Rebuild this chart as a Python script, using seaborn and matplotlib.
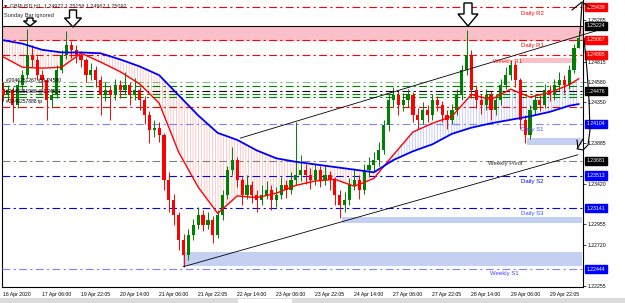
import matplotlib
matplotlib.use('Agg')
import matplotlib.pyplot as plt
import matplotlib.transforms as mtransforms
from matplotlib.patches import Rectangle, Polygon
import seaborn as sns
import numpy as np
import pandas as pd

# GBPUSD H1 chart, candles at 2-hour steps
first_open = 1.2450
closes = [1.2443, 1.2449, 1.2432, 1.2455, 1.2466, 1.2489, 1.2483, 1.2466, 1.2460, 1.2438,
          1.2443, 1.2472, 1.2489, 1.2500, 1.2495, 1.2489, 1.2483, 1.2466, 1.2472, 1.2460,
          1.2443, 1.2449, 1.2443, 1.2455, 1.2449, 1.2455, 1.2443, 1.2449, 1.2438, 1.2420,
          1.2403, 1.2406, 1.2398, 1.2346, 1.2323, 1.2306, 1.2278, 1.2260, 1.2283, 1.2295,
          1.2306, 1.2295, 1.2300, 1.2283, 1.2306, 1.2329, 1.2358, 1.2369, 1.2346, 1.2329,
          1.2340, 1.2329, 1.2323, 1.2329, 1.2335, 1.2323, 1.2329, 1.2340, 1.2335, 1.2346,
          1.2352, 1.2358, 1.2352, 1.2346, 1.2358, 1.2346, 1.2352, 1.2346, 1.2329, 1.2318,
          1.2323, 1.2340, 1.2346, 1.2335, 1.2358, 1.2363, 1.2369, 1.2381, 1.2409, 1.2438,
          1.2443, 1.2432, 1.2438, 1.2443, 1.2420, 1.2415, 1.2426, 1.2420, 1.2438, 1.2432,
          1.2420, 1.2415, 1.2426, 1.2443, 1.2472, 1.2489, 1.2449, 1.2438, 1.2432, 1.2443,
          1.2426, 1.2438, 1.2455, 1.2466, 1.2478, 1.2460, 1.2415, 1.2398, 1.2426, 1.2438,
          1.2432, 1.2449, 1.2443, 1.2455, 1.2460, 1.2455, 1.2472, 1.2497, 1.2509]
highs = [1.2458, 1.2455, 1.2452, 1.2460, 1.2472, 1.2519, 1.2500, 1.2488, 1.2472, 1.2463,
         1.2450, 1.2478, 1.2495, 1.2516, 1.2505, 1.2500, 1.2494, 1.2486, 1.2480, 1.2476,
         1.2465, 1.2458, 1.2455, 1.2462, 1.2460, 1.2470, 1.2458, 1.2463, 1.2452, 1.2442,
         1.2425, 1.2415, 1.2412, 1.2400, 1.2355, 1.2330, 1.2310, 1.2285, 1.2290, 1.2302,
         1.2315, 1.2312, 1.2310, 1.2305, 1.2312, 1.2335, 1.2362, 1.2384, 1.2372, 1.2350,
         1.2352, 1.2345, 1.2335, 1.2340, 1.2345, 1.2340, 1.2338, 1.2350, 1.2346, 1.2355,
         1.2412, 1.2375, 1.2365, 1.2360, 1.2365, 1.2362, 1.2362, 1.2357, 1.2350, 1.2335,
         1.2333, 1.2348, 1.2360, 1.2352, 1.2365, 1.2372, 1.2378, 1.2390, 1.2415, 1.2445,
         1.2453, 1.2448, 1.2446, 1.2450, 1.2447, 1.2428, 1.2435, 1.2432, 1.2445, 1.2442,
         1.2436, 1.2426, 1.2433, 1.2450, 1.2478, 1.2518, 1.2495, 1.2455, 1.2445, 1.2450,
         1.2448, 1.2445, 1.2462, 1.2475, 1.2483, 1.2481, 1.2463, 1.2420, 1.2432, 1.2445,
         1.2443, 1.2456, 1.2455, 1.2462, 1.2470, 1.2466, 1.2478, 1.2502, 1.2516]
lows = [1.2436, 1.2437, 1.2412, 1.2428, 1.2450, 1.2463, 1.2475, 1.2460, 1.2450, 1.2415,
        1.2428, 1.2440, 1.2468, 1.2485, 1.2486, 1.2480, 1.2475, 1.2458, 1.2460, 1.2452,
        1.2420, 1.2436, 1.2415, 1.2438, 1.2440, 1.2444, 1.2432, 1.2438, 1.2426, 1.2410,
        1.2388, 1.2395, 1.2390, 1.2335, 1.2310, 1.2295, 1.2266, 1.2247, 1.2255, 1.2278,
        1.2290, 1.2288, 1.2290, 1.2274, 1.2280, 1.2300, 1.2325, 1.2352, 1.2338, 1.2318,
        1.2325, 1.2320, 1.2310, 1.2318, 1.2325, 1.2312, 1.2315, 1.2325, 1.2326, 1.2330,
        1.2340, 1.2345, 1.2342, 1.2336, 1.2340, 1.2338, 1.2340, 1.2335, 1.2318, 1.2303,
        1.2310, 1.2318, 1.2335, 1.2325, 1.2330, 1.2350, 1.2356, 1.2362, 1.2376, 1.2402,
        1.2430, 1.2420, 1.2425, 1.2430, 1.2412, 1.2405, 1.2410, 1.2412, 1.2415, 1.2425,
        1.2412, 1.2405, 1.2410, 1.2420, 1.2438, 1.2466, 1.2440, 1.2428, 1.2422, 1.2426,
        1.2415, 1.2420, 1.2432, 1.2450, 1.2460, 1.2452, 1.2405, 1.2388, 1.2393, 1.2420,
        1.2425, 1.2428, 1.2436, 1.2438, 1.2448, 1.2446, 1.2450, 1.2468, 1.2497]

# moving averages (red fast, blue slow) read at every 4th candle
ma_idx = list(range(0, 117, 4)) + [118]
ma_fast = [1.2487, 1.2475, 1.2474, 1.2475, 1.2491, 1.2481, 1.2470, 1.2456, 1.2434, 1.2378,
           1.2338, 1.2308, 1.2328, 1.2326, 1.2331, 1.2340, 1.2345, 1.2347, 1.2339, 1.2348,
           1.2375, 1.2401, 1.2411, 1.2419, 1.2444, 1.2438, 1.2450, 1.2441, 1.2446, 1.2455, 1.2462]
ma_slow = [1.2506, 1.2502, 1.2495, 1.2492, 1.2492, 1.2491, 1.2484, 1.2476, 1.2466, 1.2443,
           1.2420, 1.2400, 1.2392, 1.2380, 1.2371, 1.2367, 1.2364, 1.2361, 1.2358, 1.2355,
           1.2369, 1.2379, 1.2387, 1.2399, 1.2406, 1.2411, 1.2415, 1.2419, 1.2424, 1.2431, 1.2433]

time_idx = list(range(0, 113, 8))
time_labels = ['16 Apr 2020', '17 Apr 06:00', '19 Apr 22:05', '20 Apr 14:00', '21 Apr 06:00',
               '21 Apr 22:05', '22 Apr 14:00', '23 Apr 06:00', '23 Apr 22:05', '24 Apr 14:00',
               '27 Apr 06:00', '27 Apr 22:05', '28 Apr 14:00', '29 Apr 06:00', '29 Apr 22:05']
# scale ticks that are not hidden behind the level boxes
price_ticks = [1.25285, 1.24815, 1.24580, 1.24350, 1.23885,
               1.23420, 1.22955, 1.22720, 1.22255]

# horizontal levels: price, colour, boxed label on the price scale
level_prices = [1.25439, 1.25067, 1.24895, 1.2458, 1.2454, 1.24476, 1.2444, 1.2441, 1.2430,
                1.24104, 1.23681, 1.23513, 1.23141, 1.22444]
level_colors = ['red', 'red', 'red', '#80c080', 'green', 'black', 'green', 'green', 'red',
                '#8080ff', '#808080', 'blue', 'blue', '#8080ff']
level_boxed = [True, True, True, False, False, True, False, False, False,
               True, True, True, True, True]
box_colors = {'red': 'red', 'black': 'black', '#8080ff': 'blue', 'blue': 'blue', '#808080': 'black'}
solid_price = 1.25224

level_names = ['Daily R2', 'Daily R1', 'Weekly R1', 'Daily S1', 'Weekly Pivot', 'Daily S2', 'Daily S3', 'Weekly S1']
name_xy = [(521, 14), (521, 46), (493, 61), (521, 130), (488, 164), (521, 181), (521, 213), (490, 274)]
name_colors = ['red', 'red', 'red', '#5050ff', '#303030', 'blue', '#3050ff', '#4040ff']

sns.set_style('white')
plt.rcParams['font.family'] = ['Liberation Sans', 'DejaVu Sans']
plt.rcParams['hatch.linewidth'] = 0.5

fig = plt.figure(figsize=(6.25, 3.03), dpi=100)
ax = fig.add_axes([2 / 625, 16 / 303, 581 / 625, 287 / 303])
ax.set_xlim(-0.2, 118.85)
ax.set_ylim(1.22239, 1.25519)

# zones
ax.add_patch(Rectangle((-0.2, 1.2505), 119.05, solid_price - 1.2505, color='#f9c0ca', lw=0, zorder=1))
ax.add_patch(Rectangle((106, 1.2480), 11.6, 0.0006, color='#f9c0ca', lw=0, zorder=1))
ax.add_patch(Rectangle((107.4, 1.2386), 11.3, 0.0008, color='#c4d0f2', lw=0, zorder=1))
ax.add_patch(Rectangle((69.5, 1.2297), 49.2, 0.0007, color='#c4d0f2', lw=0, zorder=1))
ax.add_patch(Rectangle((36.9, 1.2248), 81.8, 0.0016, color='#c4d0f2', lw=0, zorder=1))

# MA cloud
f = np.array(ma_fast)
s = np.array(ma_slow)
ax.fill_between(ma_idx, f, s, where=f < s, interpolate=True, facecolor='none',
                edgecolor='#ffb4b4', hatch='||||||', linewidth=0, zorder=1.5)
ax.fill_between(ma_idx, f, s, where=f >= s, interpolate=True, facecolor='none',
                edgecolor='#b4bcff', hatch='||||||', linewidth=0, zorder=1.5)

# level lines
dash = (0, (7, 3, 2, 3))
for p, c in zip(level_prices, level_colors):
    ax.axhline(p, color=c, lw=0.8, linestyle=dash, zorder=3)
ax.axhline(solid_price, color='black', lw=0.8, zorder=3)

# candles
df = pd.DataFrame({'close': closes, 'high': highs, 'low': lows})
df['open'] = [first_open] + closes[:-1]
df['x'] = np.arange(len(df))
up = df['close'] >= df['open']
cols = np.where(up, '#008000', '#ff0000')
ax.vlines(df['x'], df['low'], df['high'], colors=cols, linewidth=0.7, zorder=4)
ax.bar(df['x'], (df['close'] - df['open']).abs().clip(lower=0.00008),
       bottom=df[['open', 'close']].min(axis=1), width=0.65, color=cols, linewidth=0, zorder=4)

sns.lineplot(x=ma_idx, y=ma_fast, color='red', lw=1.0, ax=ax, zorder=5)
sns.lineplot(x=ma_idx, y=ma_slow, color='#0000ff', lw=1.3, ax=ax, zorder=5)

# trend channel
ax.plot([48.6, 122.3], [1.2394, 1.2518], color='black', lw=0.6, zorder=5, clip_on=False)
ax.plot([36.9, 117.8], [1.2247, 1.2375], color='black', lw=0.6, zorder=5)

# axes styling
for side in ['left', 'bottom', 'right']:
    ax.spines[side].set_visible(True)
    ax.spines[side].set_color('black')
    ax.spines[side].set_linewidth(0.8)
ax.spines['top'].set_visible(False)
ax.set_xticks(time_idx)
ax.set_xticklabels(time_labels, ha='left', fontsize=3.7)
ax.yaxis.tick_right()
ax.set_yticks(price_ticks)
ax.set_yticklabels(['%.5f' % p for p in price_ticks], fontsize=3.7)
ax.tick_params(axis='both', length=2, width=0.5, pad=1.5, colors='black')
ax.set_xlabel('')
ax.set_ylabel('')

trans = mtransforms.blended_transform_factory(ax.transAxes, ax.transData)
for p, c, b in zip(level_prices, level_colors, level_boxed):
    if b:
        bc = box_colors[c]
        ax.text(1.006, p, '%.5f' % p, transform=trans, fontsize=3.7, color='white', va='center',
                ha='left', zorder=6, clip_on=False,
                bbox=dict(boxstyle='square,pad=0.3', fc=bc, ec=bc))
ax.text(1.006, solid_price, '%.5f' % solid_price, transform=trans, fontsize=3.7, color='white',
        va='center', ha='left', zorder=6, clip_on=False,
        bbox=dict(boxstyle='square,pad=0.3', fc='black', ec='black'))

# overlay in pixel coordinates for labels and hand drawing
ov = fig.add_axes([0, 0, 1, 1], zorder=10)
ov.set_xlim(0, 625)
ov.set_ylim(303, 0)
ov.axis('off')
ov.patch.set_alpha(0)

ov.add_patch(Rectangle((0, 298), 625, 5, color='#dcdcdc', lw=0))
ov.add_patch(Rectangle((238, 299), 54, 4, color='white', lw=0))

ov.text(3, 6, '\u25bc GBPUSD,H1  1.24972 1.25158 1.24967 1.25092', fontsize=3.9, va='center')
ov.text(4, 15, 'Sunday Bar ignored', fontsize=4.1, va='center')
for yy, t in [(80, '#2046251267 @1.24580'), (91, '#2046251988 @1.24511'), (101, '#2046257888 tp')]:
    ov.text(6, yy, t, fontsize=3.6, va='center', color='black')

for (x, y), t, c in zip(name_xy, level_names, name_colors):
    ov.text(x, y, t, fontsize=4.3, color=c, va='center', ha='left')


def block_arrow(cx, top, sw, sh, hw, hh):
    pts = [(cx - sw / 2, top), (cx + sw / 2, top), (cx + sw / 2, top + sh), (cx + hw / 2, top + sh),
           (cx, top + sh + hh), (cx - hw / 2, top + sh), (cx - sw / 2, top + sh)]
    ov.add_patch(Polygon(pts, closed=True, fc='white', ec='black', lw=1.0))


block_arrow(30, 18, 6, 3, 13, 5)
block_arrow(73, 10, 7, 8, 17, 9)
block_arrow(468, 3, 8, 11, 20, 12)

# hand-drawn arrows on the right
ov.plot([580, 581, 582], [34, 18, 3], color='black', lw=0.8)
ov.plot([572, 582, 591], [10, 2, 8], color='black', lw=0.8)
ov.plot([584, 587, 589, 590, 588, 583, 578, 577], [38, 70, 100, 130, 145, 150, 149, 140],
        color='black', lw=0.8)
ov.plot([577, 583], [149, 139], color='black', lw=0.8)

fig.savefig('out.png', dpi=100)
